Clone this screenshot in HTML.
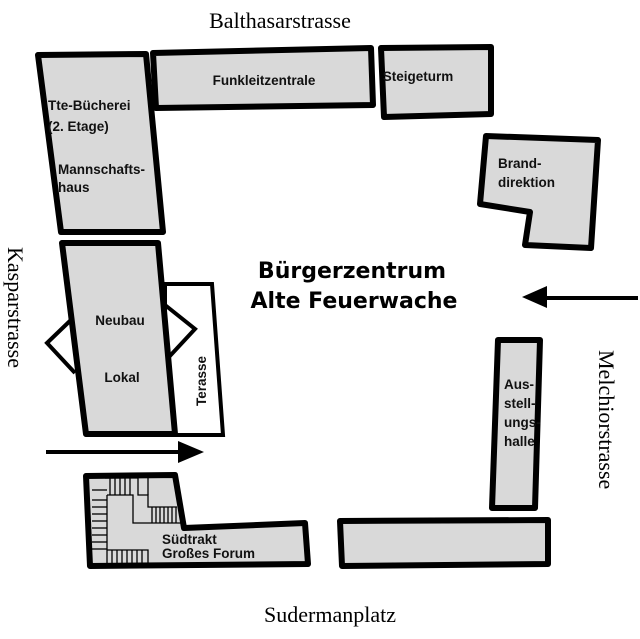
<!DOCTYPE html>
<html><head><meta charset="utf-8"><style>
html,body{margin:0;padding:0;background:#fff;width:640px;height:639px;overflow:hidden}
svg{display:block}
.b{fill:#d9d9d9;stroke:#000;stroke-width:6;stroke-linejoin:round}
.t{font-family:"Liberation Sans",sans-serif;font-weight:bold;font-size:13.5px;fill:#111}
.s{font-family:"Liberation Serif",serif;font-size:22px;fill:#000}
.l{stroke:#000;stroke-width:1.3;fill:none}
</style></head><body>
<svg width="640" height="639" viewBox="0 0 640 639">
<text class="s" x="280" y="28" text-anchor="middle">Balthasarstrasse</text>
<text class="s" x="330" y="622" text-anchor="middle">Sudermanplatz</text>
<text class="s" transform="translate(8,247) rotate(90)">Kasparstrasse</text>
<text class="s" transform="translate(599,350) rotate(90)">Melchiorstrasse</text>

<polygon class="b" points="38,55 146,54 163,232 61,232"/>
<text class="t" x="48" y="110">Tte-Bücherei</text>
<text class="t" x="48" y="131">(2. Etage)</text>
<text class="t" x="58" y="174">Mannschafts-</text>
<text class="t" x="58" y="192">haus</text>

<polygon class="b" points="153,53 371,48 373,105 156,108"/>
<text class="t" x="264" y="85" text-anchor="middle">Funkleitzentrale</text>
<polygon class="b" points="381,48 491,47 491,114 384,117"/>
<text class="t" x="418" y="81" text-anchor="middle">Steigeturm</text>

<polygon class="b" points="486,136 598,140 591,248 525,245 530,212 480,204"/>
<text class="t" x="498" y="168">Brand-</text>
<text class="t" x="498" y="187">direktion</text>

<polygon points="165,284 212,284 223,435 165,435" fill="#fff" stroke="#000" stroke-width="4"/>
<text class="t" transform="translate(206,406) rotate(-90)">Terasse</text>
<polyline points="73,318 47,343 75,373" fill="none" stroke="#000" stroke-width="4"/>
<polyline points="165,305 195,329 168,358" fill="none" stroke="#000" stroke-width="4"/>
<polygon class="b" points="62,243 158,243 175,434 86,434"/>
<text class="t" x="120" y="325" text-anchor="middle" font-size="14">Neubau</text>
<text class="t" x="122" y="382" text-anchor="middle" font-size="14">Lokal</text>

<line x1="46" y1="452" x2="180" y2="452" stroke="#000" stroke-width="4"/>
<polygon points="178,441 204,452 178,463" fill="#000"/>
<line x1="638" y1="298" x2="545" y2="298" stroke="#000" stroke-width="4"/>
<polygon points="547,286 522,297 547,308" fill="#000"/>

<text x="352" y="278" text-anchor="middle" font-family="DejaVu Sans,Liberation Sans,sans-serif" font-weight="bold" font-size="22">Bürgerzentrum</text>
<text x="354" y="308" text-anchor="middle" font-family="DejaVu Sans,Liberation Sans,sans-serif" font-weight="bold" font-size="22">Alte Feuerwache</text>

<polygon class="b" points="498,340 540,340 535,508 492,508"/>
<text class="t" x="504" y="389">Aus-</text>
<text class="t" x="504" y="408">stell-</text>
<text class="t" x="504" y="427">ungs-</text>
<text class="t" x="504" y="446">halle</text>

<polygon class="b" points="86,476 175,475 184,528 305,523 308,564 90,566"/>
<!-- stairs -->
<g class="l">
<polyline points="105,478 138,478 138,495 148,495 148,507 177,507"/>
<polyline points="148,478 148,495"/>
<polyline points="107,495 133,495 133,523 182,523"/>
<polyline points="107,495 107,563"/>
<polyline points="107,550 148,550 148,565"/>
<polyline points="92,490 107,490"/>
<line x1="110" y1="478" x2="110" y2="495"/><line x1="115" y1="478" x2="115" y2="495"/><line x1="120" y1="478" x2="120" y2="495"/><line x1="125" y1="478" x2="125" y2="495"/><line x1="130" y1="478" x2="130" y2="495"/>
<line x1="152" y1="507" x2="152" y2="523"/><line x1="156" y1="507" x2="156" y2="523"/><line x1="160" y1="507" x2="160" y2="523"/><line x1="164" y1="507" x2="164" y2="523"/><line x1="168" y1="507" x2="168" y2="523"/><line x1="172" y1="507" x2="172" y2="523"/><line x1="176" y1="507" x2="176" y2="523"/>
<line x1="92" y1="500" x2="107" y2="500"/><line x1="92" y1="507" x2="107" y2="507"/><line x1="92" y1="514" x2="107" y2="514"/><line x1="92" y1="521" x2="107" y2="521"/><line x1="92" y1="528" x2="107" y2="528"/><line x1="92" y1="535" x2="107" y2="535"/><line x1="92" y1="542" x2="107" y2="542"/><line x1="92" y1="549" x2="107" y2="549"/>
<line x1="112" y1="550" x2="112" y2="564"/><line x1="117" y1="550" x2="117" y2="564"/><line x1="122" y1="550" x2="122" y2="564"/><line x1="127" y1="550" x2="127" y2="564"/><line x1="132" y1="550" x2="132" y2="564"/><line x1="137" y1="550" x2="137" y2="564"/><line x1="142" y1="550" x2="142" y2="564"/>
</g>
<text class="t" x="162" y="544" font-size="14">Südtrakt</text>
<text class="t" x="162" y="558" font-size="11" font-weight="normal">Großes Forum</text>

<polygon class="b" points="340,521 548,520 548,564 342,566"/>
</svg>
</body></html>
